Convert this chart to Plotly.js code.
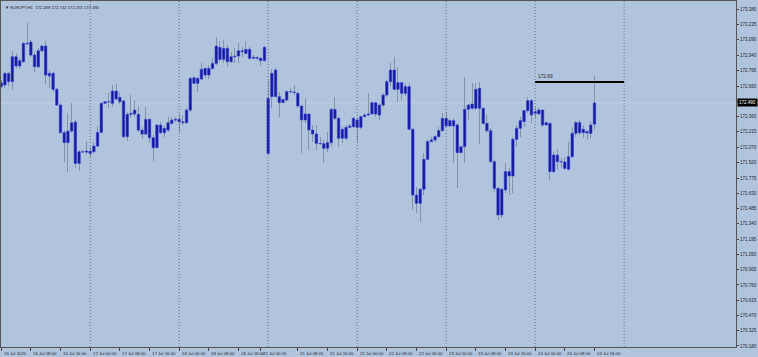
<!DOCTYPE html>
<html><head><meta charset="utf-8">
<script src="https://cdn.plot.ly/plotly-3.0.1.min.js"></script>
<style>html,body{margin:0;padding:0;background:#B0C4DE;}#chart{width:758px;height:357px;}</style>
</head><body><div id="chart"></div>
<script>
const opens = [172.644,172.660,172.771,172.692,172.929,172.841,172.882,173.056,173.069,172.945,
172.834,172.986,173.031,172.746,172.771,172.619,172.470,172.207,172.112,172.223,
172.308,171.915,172.026,172.023,172.033,172.026,172.080,172.210,172.486,172.502,
172.486,172.603,172.543,172.508,172.169,172.381,172.385,172.381,172.232,172.194,
172.334,172.159,172.064,172.280,172.207,172.232,172.296,172.327,172.334,172.311,
172.302,172.422,172.730,172.676,172.717,172.818,172.755,172.818,172.866,173.018,
172.904,173.009,172.882,172.929,172.936,172.986,172.961,172.999,172.914,172.923,
172.914,172.892,172.011,172.550,172.803,172.550,172.493,172.518,172.597,172.594,
172.581,172.461,172.328,172.385,172.233,172.195,172.106,172.103,172.059,172.112,
172.429,172.344,172.154,172.154,172.258,172.265,172.328,172.258,172.360,172.375,
172.385,172.493,172.375,172.470,172.565,172.692,172.803,172.619,172.683,172.581,
172.645,172.239,171.615,171.536,171.669,171.954,172.122,172.138,172.170,172.227,
172.344,172.271,172.322,172.280,172.017,172.074,172.429,172.439,172.439,172.629,
172.439,172.296,172.226,171.932,171.678,171.425,171.663,171.837,171.796,172.144,
172.249,172.312,172.417,172.512,172.391,172.385,172.423,172.280,172.296,171.837,
171.995,171.932,171.929,171.859,171.979,172.201,172.303,172.207,172.217,172.201,
172.288];
const highs = [172.708,172.787,172.787,172.986,172.961,172.914,173.072,173.246,173.088,172.977,
173.009,173.040,173.081,172.803,172.787,172.628,172.486,172.232,172.397,172.486,
172.327,172.042,172.042,172.131,172.074,172.121,172.258,172.502,172.565,172.581,
172.660,172.670,172.597,172.518,172.407,172.565,172.518,172.448,172.264,172.454,
172.343,172.185,172.289,172.311,172.270,172.359,172.353,172.359,172.384,172.375,
172.438,172.739,172.755,172.739,172.866,172.834,172.850,172.914,173.120,173.081,
173.088,173.040,172.977,173.009,173.063,173.025,173.081,173.025,172.946,172.930,
172.923,173.031,172.708,172.809,172.819,172.597,172.565,172.613,172.629,172.661,
172.597,172.470,172.534,172.391,172.280,172.280,172.170,172.138,172.217,172.439,
172.550,172.353,172.258,172.280,172.290,172.353,172.344,172.366,172.391,172.588,
172.508,172.502,172.486,172.581,172.708,172.873,172.930,172.835,172.692,172.683,
172.676,172.249,171.694,171.678,172.011,172.138,172.170,172.185,172.258,172.391,
172.407,172.334,172.344,172.296,172.154,172.740,172.480,172.676,172.683,172.692,
172.455,172.375,172.249,171.948,171.694,171.678,171.916,171.868,172.170,172.280,
172.360,172.423,172.543,172.524,172.455,172.439,172.423,172.312,172.303,172.027,
172.049,171.964,171.979,172.122,172.265,172.322,172.328,172.280,172.233,172.312,
172.742];
const lows = [172.628,172.628,172.651,172.613,172.818,172.809,172.872,173.040,172.929,172.787,
172.818,172.977,172.670,172.628,172.597,172.460,172.201,171.931,171.836,172.201,
171.868,171.846,172.010,171.994,171.972,172.010,172.074,172.201,172.327,172.438,
172.448,172.518,172.480,172.153,172.131,172.343,172.353,172.216,172.144,172.185,
172.112,171.941,172.058,172.194,172.163,172.216,172.280,172.311,172.216,172.280,
172.289,172.407,172.565,172.597,172.708,172.723,172.714,172.803,172.850,172.882,
172.872,172.834,172.866,172.866,172.866,172.929,172.945,172.898,172.904,172.898,
172.841,172.882,171.995,172.439,172.543,172.360,172.439,172.502,172.581,172.565,
172.439,172.011,172.296,172.043,172.122,172.043,172.090,171.922,172.027,172.074,
172.328,172.074,172.106,172.138,172.249,172.249,172.106,172.239,172.353,172.366,
172.366,172.360,172.328,172.455,172.543,172.645,172.613,172.502,172.518,172.556,
172.233,171.473,171.447,171.362,171.615,171.948,172.122,172.122,172.154,172.217,
172.258,172.265,171.916,171.678,171.900,171.916,172.328,172.423,172.423,172.100,
172.280,172.201,171.916,171.647,171.377,171.393,171.631,171.615,171.631,172.068,
172.170,172.265,172.391,172.296,172.344,172.375,172.258,172.280,171.758,171.821,
171.853,171.868,171.853,171.853,171.964,172.170,172.185,172.154,172.138,172.154,
172.231];
const closes = [172.682,172.771,172.692,172.929,172.841,172.891,173.056,173.050,172.945,172.834,
172.986,173.031,172.755,172.771,172.619,172.470,172.207,172.112,172.223,172.302,
171.915,172.026,172.023,172.033,172.010,172.080,172.210,172.486,172.502,172.499,
172.603,172.527,172.502,172.169,172.381,172.391,172.422,172.232,172.194,172.334,
172.159,172.064,172.280,172.207,172.248,172.302,172.327,172.334,172.311,172.302,
172.422,172.723,172.676,172.723,172.809,172.755,172.818,172.866,173.031,172.904,
173.009,172.882,172.929,172.936,172.986,172.977,172.999,172.914,172.923,172.914,
172.892,173.019,172.534,172.771,172.550,172.493,172.524,172.597,172.594,172.588,
172.461,172.328,172.385,172.233,172.195,172.106,172.103,172.059,172.112,172.429,
172.344,172.154,172.239,172.258,172.271,172.344,172.258,172.360,172.375,172.385,
172.493,172.385,172.470,172.565,172.692,172.803,172.619,172.683,172.581,172.645,
172.239,171.615,171.536,171.669,171.954,172.122,172.138,172.170,172.227,172.344,
172.271,172.322,172.271,172.017,172.074,172.429,172.470,172.480,172.619,172.439,
172.296,172.226,171.932,171.678,171.425,171.669,171.837,171.796,172.144,172.249,
172.322,172.417,172.512,172.375,172.407,172.423,172.280,172.303,171.837,171.995,
171.932,171.929,171.868,171.979,172.201,172.303,172.207,172.239,172.204,172.280,
172.490];

const xTickPos = [0,8,16,24,32,40,48,56,64,70,80,88,96,104,112,120,128,136,144,152,160];
const xTickText = ["16 Jul 2025","16 Jul 08:00","16 Jul 16:00","17 Jul 00:00","17 Jul 08:00","17 Jul 16:00",
"18 Jul 00:00","18 Jul 08:00","18 Jul 16:00","21 Jul 00:05","21 Jul 08:05","21 Jul 16:05",
"22 Jul 00:00","22 Jul 08:00","22 Jul 16:00","23 Jul 00:00","23 Jul 08:00","23 Jul 16:00",
"24 Jul 00:00","24 Jul 08:00","24 Jul 16:00"];
const yTickVals = [173.380,173.235,173.090,172.940,172.795,172.650,172.505,172.360,172.215,172.070,171.920,
171.775,171.630,171.485,171.340,171.195,171.050,170.905,170.760,170.615,170.470,170.325,170.180];
const yTickText = yTickVals.map(v => v.toFixed(3));
const daySeparators = [24,48,72,96,120,144,168];
const symbol = "EURJPY,H1";
const levelPrice = 172.69;
const levelStart = 144, levelEnd = 168;

const idx = opens.map((_, i) => i);
const minBody = 0.003;
const bodyBase = [], bodyH = [];
for (let i = 0; i < opens.length; i++) {
  const lo = Math.min(opens[i], closes[i]), hi = Math.max(opens[i], closes[i]);
  const h = hi - lo;
  if (h < minBody) { bodyBase.push(lo - (minBody - h) / 2); bodyH.push(minBody); }
  else { bodyBase.push(lo); bodyH.push(h); }
}
const last = opens.length - 1;
const fmt = v => v.toFixed(3);

const wicks = {
  type: 'bar', x: idx, base: lows, y: highs.map((h, i) => h - lows[i]),
  width: 0.26, marker: {color: '#8591a6', line: {width: 0}}, hoverinfo: 'skip'
};
const bodies = {
  type: 'bar', x: idx, base: bodyBase, y: bodyH,
  width: 0.66, marker: {color: '#18189a', line: {color: '#2d40d8', width: 0.6}}, hoverinfo: 'skip'
};

const shapes = daySeparators.map(d => ({
  type: 'line', xref: 'x', yref: 'paper', x0: d, x1: d, y0: 0, y1: 1,
  line: {color: '#505a66', width: 0.8, dash: '1px,2px'}
}));
shapes.push({type: 'line', xref: 'paper', yref: 'y', x0: 0, x1: 1, y0: closes[last], y1: closes[last],
  line: {color: 'rgba(196,206,222,0.9)', width: 1}, layer: 'below'});
shapes.push({type: 'line', xref: 'x', yref: 'y', x0: levelStart, x1: levelEnd, y0: levelPrice, y1: levelPrice,
  line: {color: '#000000', width: 2}});

const fam = 'Liberation Sans, Arial, sans-serif';
const fntX = {family: fam, size: 4.3, color: '#1e1e1e'};
const fntY = {family: fam, size: 4.5, color: '#1e1e1e'};
const annotations = xTickPos.map((p, i) => ({
  x: p, xref: 'x', y: 0, yref: 'paper', yanchor: 'top', xanchor: 'left', xshift: 0.5, yshift: -1.5,
  text: xTickText[i], showarrow: false, font: fntX
}));
annotations.push({
  x: 0, xref: 'paper', y: 1, yref: 'paper', xanchor: 'left', yanchor: 'top', xshift: 1.5, yshift: -1.5,
  text: '▼ ' + symbol + '  ' + fmt(opens[last]) + ' ' + fmt(highs[last]) + ' ' + fmt(lows[last]) + ' ' + fmt(closes[last]),
  showarrow: false, font: {family: fam, size: 4.2, color: '#1e1e1e'}
});
annotations.push({
  x: levelStart, xref: 'x', y: levelPrice, yref: 'y', xanchor: 'left', yanchor: 'bottom', xshift: 1, yshift: 1,
  text: levelPrice.toFixed(2), showarrow: false, font: {family: fam, size: 4.8, color: '#1e1e1e'}
});
annotations.push({
  x: 1, xref: 'paper', y: closes[last], yref: 'y', xanchor: 'left', yanchor: 'middle', xshift: 1,
  text: fmt(closes[last]), showarrow: false, bgcolor: '#000000', borderpad: 1,
  font: {family: fam, size: 4.5, color: '#ffffff'}
});

const layout = {
  width: 758, height: 357,
  margin: {l: 1, r: 22, t: 1, b: 10, pad: 0},
  paper_bgcolor: '#B0C4DE', plot_bgcolor: '#B0C4DE',
  showlegend: false, barmode: 'overlay', bargap: 0,
  xaxis: {range: [-0.05, 198.17], showgrid: false, zeroline: false,
    tickmode: 'array', tickvals: xTickPos, ticktext: xTickText.map(() => ''), showticklabels: false,
    ticks: 'outside', ticklen: 3, tickcolor: '#444', tickwidth: 1,
    showline: true, linecolor: '#555', linewidth: 1, mirror: true, fixedrange: true},
  yaxis: {range: [170.170, 173.459], side: 'right', showgrid: false, zeroline: false,
    tickmode: 'array', tickvals: yTickVals, ticktext: yTickText,
    ticks: 'outside', ticklen: 2, tickcolor: '#444', tickwidth: 1,
    tickfont: fntY, showline: true, linecolor: '#555', linewidth: 1, mirror: true, fixedrange: true},
  shapes: shapes, annotations: annotations
};

Plotly.newPlot('chart', [wicks, bodies], layout, {staticPlot: true, displayModeBar: false});
</script>
</body></html>
